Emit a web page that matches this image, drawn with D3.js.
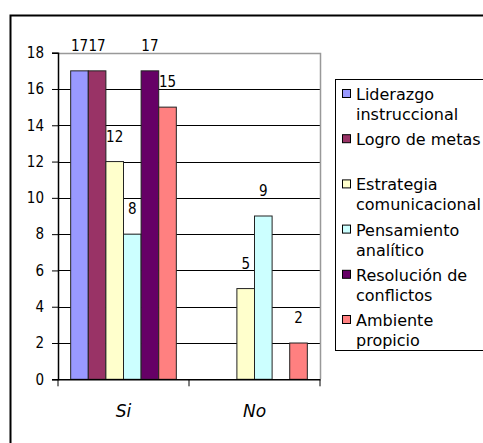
<!DOCTYPE html>
<html>
<head>
<meta charset="utf-8">
<script src="https://cdn.jsdelivr.net/npm/d3@7"></script>
<style>
body { margin: 0; background: #fff; }
svg { display: block; }
</style>
</head>
<body>
<script>
// data
var categories = ["Si", "No"];
var series = ["Liderazgo instruccional", "Logro de metas", "Estrategia comunicacional",
              "Pensamiento analítico", "Resolución de conflictos", "Ambiente propicio"];
var legendLines = [["Liderazgo", "instruccional"], ["Logro de metas", ""], ["Estrategia", "comunicacional"],
                   ["Pensamiento", "analítico"], ["Resolución de", "conflictos"], ["Ambiente", "propicio"]];
var valuesSi = [17, 17, 12, 8, 17, 15];
var valuesNo = [null, null, 5, 9, null, 2];
var yTicks = [0, 2, 4, 6, 8, 10, 12, 14, 16, 18];
var colors = ["#9999ff", "#993366", "#ffffcc", "#ccffff", "#660066", "#ff8080"];

var width = 483, height = 443;
var margin = { top: 52.7, left: 58, right: 163, bottom: 63.7 };
var numFont = "DejaVu Sans Condensed, DejaVu Sans";

var svg = d3.select("body").append("svg")
    .attr("width", width)
    .attr("height", height);

// outer chart frame (runs off the right and bottom edges)
svg.append("path")
    .attr("d", "M10.5," + height + " V15.5 H" + width)
    .attr("fill", "none")
    .attr("stroke", "#000")
    .attr("stroke-width", 2);

var x0 = d3.scaleBand()
    .domain(categories)
    .range([margin.left, width - margin.right]);

var x1 = d3.scaleBand()
    .domain(series)
    .range([0, x0.bandwidth()])
    .paddingOuter(0.72);

var y = d3.scaleLinear()
    .domain([0, 18])
    .range([height - margin.bottom, margin.top]);

// gridlines
svg.append("g")
    .selectAll("line")
    .data(yTicks.filter(function(t) { return t > 0 && t < 18; }))
    .join("line")
    .attr("x1", margin.left).attr("x2", width - margin.right)
    .attr("y1", function(d) { return Math.round(y(d)) + 0.5; })
    .attr("y2", function(d) { return Math.round(y(d)) + 0.5; })
    .attr("stroke", "#000");

// plot area border, top and right in grey
svg.append("path")
    .attr("d", "M" + margin.left + "," + (Math.round(y(18)) + 0.5) +
               " H" + (Math.round(width - margin.right) + 0.5) +
               " V" + Math.round(y(0)))
    .attr("fill", "none")
    .attr("stroke", "#999")
    .attr("stroke-width", 1.5);

var rows = categories.map(function(c, i) {
    return { cat: c, vals: i === 0 ? valuesSi : valuesNo };
});

var groups = svg.append("g").selectAll("g")
    .data(rows)
    .join("g")
    .attr("transform", function(d) { return "translate(" + x0(d.cat) + ",0)"; });

function barData(d) {
    return d.vals.map(function(v, i) { return { s: series[i], v: v, i: i }; })
                 .filter(function(e) { return e.v; });
}

groups.selectAll("rect")
    .data(barData)
    .join("rect")
    .attr("x", function(d) { return x1(d.s); })
    .attr("width", x1.bandwidth())
    .attr("y", function(d) { return y(d.v); })
    .attr("height", function(d) { return y(0) - y(d.v); })
    .attr("fill", function(d) { return colors[d.i]; })
    .attr("stroke", "#222")
    .attr("stroke-width", 1);

groups.selectAll("text")
    .data(barData)
    .join("text")
    .attr("x", function(d) { return x1(d.s) + x1.bandwidth() / 2; })
    .attr("y", function(d) { return y(d.v) - 20; })
    .attr("text-anchor", "middle")
    .style("font-family", numFont)
    .style("font-size", "15px")
    .text(function(d) { return d.v; });

// axes
var yAxis = svg.append("g")
    .attr("transform", "translate(" + margin.left + ",0)")
    .call(d3.axisLeft(y).tickValues(yTicks).tickSize(6).tickPadding(8));

var xAxis = svg.append("g")
    .attr("transform", "translate(0," + y(0) + ")")
    .call(d3.axisBottom(x0).tickSize(0).tickPadding(26));

// category boundary ticks
svg.append("g")
    .selectAll("line")
    .data([margin.left, x0("No"), width - margin.right])
    .join("line")
    .attr("x1", function(d) { return d; }).attr("x2", function(d) { return d; })
    .attr("y1", y(0)).attr("y2", y(0) + 7)
    .attr("stroke", "#000");

yAxis.selectAll("text")
    .style("font-family", numFont)
    .style("font-size", "15px")
    .attr("fill", "#000");
xAxis.selectAll("text")
    .style("font-family", "DejaVu Sans")
    .style("font-size", "17px")
    .style("font-style", "italic")
    .attr("fill", "#000");
svg.selectAll(".domain").attr("stroke", "#000").attr("stroke-width", 1.5);
svg.selectAll(".tick line").attr("stroke", "#000");

// legend
var legend = svg.append("g");
legend.append("rect")
    .attr("x", 335.5).attr("y", 79.5)
    .attr("width", 160).attr("height", 271)
    .attr("fill", "#fff")
    .attr("stroke", "#000");

var items = legend.selectAll("g.item")
    .data(series)
    .join("g")
    .attr("class", "item")
    .attr("transform", function(d, i) { return "translate(342," + (94 + i * 45.2) + ")"; });

items.append("rect")
    .attr("x", 0.5).attr("y", -4.5)
    .attr("width", 8).attr("height", 8)
    .attr("fill", function(d, i) { return colors[i]; })
    .attr("stroke", "#000");

items.append("text")
    .style("font-family", "DejaVu Sans")
    .style("font-size", "16px")
    .selectAll("tspan")
    .data(function(d, i) { return legendLines[i]; })
    .join("tspan")
    .attr("x", 14)
    .attr("y", function(d, j) { return 6 + j * 20; })
    .text(function(d) { return d; });
</script>
</body>
</html>
